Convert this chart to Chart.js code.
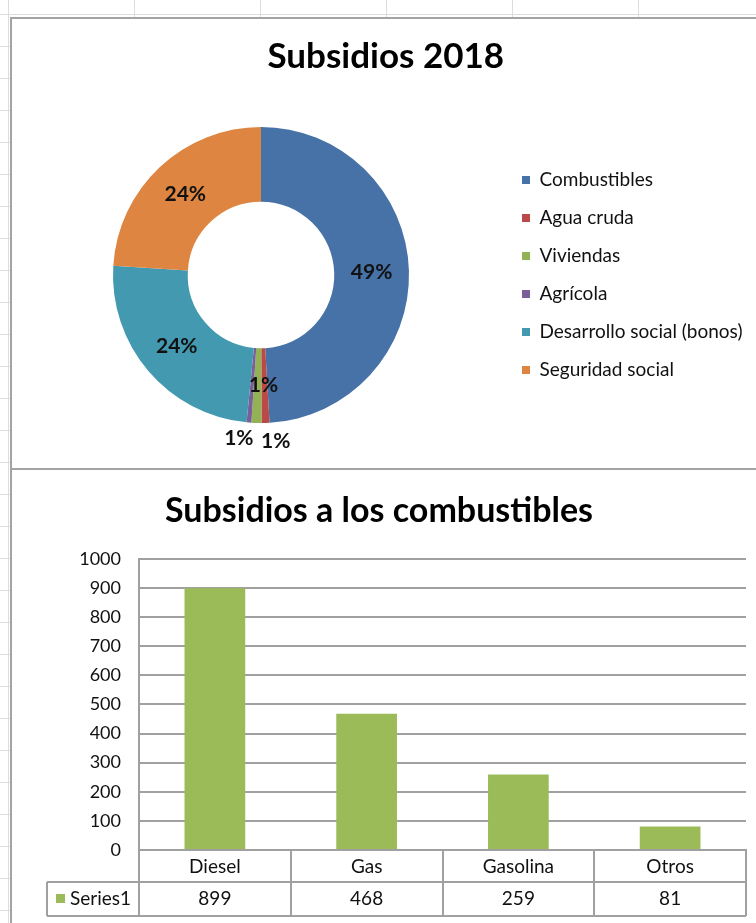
<!DOCTYPE html>
<html>
<head>
<meta charset="utf-8">
<title>Subsidios 2018</title>
<script src="https://cdn.jsdelivr.net/npm/chart.js@4.4.0/dist/chart.umd.min.js"></script>
<style>
  html, body { margin: 0; padding: 0; }
  body {
    width: 756px; height: 923px; overflow: hidden; position: relative; background-color: #fff;
    /* cell grid of the sheet behind the charts */
    background-image:
      repeating-linear-gradient(to right, #dcdcdc 0 1px, transparent 1px 126px),
      repeating-linear-gradient(to bottom, #dcdcdc 0 1px, transparent 1px 32px);
    background-position: 8px 0, 0 14px;
  }
  .marco {
    position: absolute; left: 10px; width: 764px; box-sizing: border-box;
    border: 2px solid #a3a3a3; background: #fff;
  }
  #marco1 { top: 17px; height: 453px; }
  #marco2 { top: 468px; height: 470px; }
  canvas { position: absolute; left: 0; top: 0; }
</style>
</head>
<body>
<div class="marco" id="marco1"><canvas id="dona" width="760" height="449"></canvas></div>
<div class="marco" id="marco2"><canvas id="barras" width="760" height="453"></canvas></div>
<script>
'use strict';

// subsidios 2018 por sector (millones USD)
const sectores = ['Combustibles', 'Agua cruda', 'Viviendas', 'Agrícola', 'Desarrollo social (bonos)', 'Seguridad social'];
const montos = [1707, 30, 38, 18, 850, 835];

// detalle de combustibles
const combustibles = ['Diesel', 'Gas', 'Gasolina', 'Otros'];
const valoresCombustibles = [899, 468, 259, 81];
const nombreSerie = 'Series1';
const ejeY = { min: 0, max: 1000, paso: 100 };

const FUENTE = 'Lato, "Open Sans", sans-serif';
const TEXTO = '#111';
const LINEA = '#a0a0a0';
const coloresSectores = ['#4672a7', '#b94a48', '#93b155', '#7a5f9a', '#4299b0', '#de8641'];
const VERDE = '#9bbb59';

Chart.defaults.font.family = FUENTE;
Chart.defaults.color = TEXTO;

// rotulos de porcentaje; los sectores chicos van fuera del anillo
const ajusteRotulo = { 1: { r: 1.13, da: -3.3 }, 2: { da: -3 }, 3: { r: 1.11, da: 3.1 } };

const porcentajes = {
  id: 'porcentajes',
  afterDatasetsDraw(chart) {
    const { ctx } = chart;
    const datos = chart.data.datasets[0].data;
    const total = datos.reduce((a, b) => a + b, 0);
    ctx.save();
    ctx.font = `bold 21px ${FUENTE}`;
    ctx.fillStyle = TEXTO;
    ctx.textAlign = 'center';
    ctx.textBaseline = 'middle';
    chart.getDatasetMeta(0).data.forEach((arco, i) => {
      const p = arco.getProps(['x', 'y', 'startAngle', 'endAngle', 'innerRadius', 'outerRadius'], true);
      const aj = ajusteRotulo[i] || {};
      const ang = (p.startAngle + p.endAngle) / 2 + (aj.da || 0) * Math.PI / 180;
      const r = aj.r ? aj.r * p.outerRadius : (p.innerRadius + p.outerRadius) / 2;
      const txt = Math.round(datos[i] / total * 100) + '%';
      ctx.fillText(txt, p.x + Math.cos(ang) * r, p.y + Math.sin(ang) * r);
    });
    ctx.restore();
  }
};

// ancho de la leyenda para dejar el anillo en su sitio
const medir = document.createElement('canvas').getContext('2d');
medir.font = `19px ${FUENTE}`;
const textoMax = Math.max(...sectores.map(s => medir.measureText(s).width));
const anchoLeyenda = 19 + 8 + 9.5 + textoMax + 10;

new Chart(document.getElementById('dona'), {
  type: 'doughnut',
  data: {
    labels: sectores,
    datasets: [{
      data: montos,
      backgroundColor: coloresSectores,
      borderWidth: 0,
      hoverOffset: 0
    }]
  },
  options: {
    responsive: false,
    animation: false,
    cutout: '49.5%',
    layout: { padding: { top: 0, left: 7, bottom: 45, right: 760 - 491 - anchoLeyenda } },
    plugins: {
      title: {
        display: true,
        text: 'Subsidios 2018',
        color: '#000',
        font: { size: 35, weight: 'bold' },
        padding: { top: 17, bottom: 49 }
      },
      legend: {
        position: 'right',
        fullSize: false,
        labels: { boxWidth: 8, boxHeight: 8, padding: 19, font: { size: 19 }, color: TEXTO }
      },
      tooltip: { enabled: false }
    }
  },
  plugins: [porcentajes]
});

// tabla de datos bajo el eje de categorias
const tablaDatos = {
  id: 'tablaDatos',
  afterDraw(chart) {
    const { ctx, chartArea: a, scales: { x } } = chart;
    const n = combustibles.length;
    const ancho = x.width / n;
    const fila1 = a.bottom + 32;
    const fila2 = fila1 + 34;
    const izq = 35;
    ctx.save();
    ctx.strokeStyle = LINEA;
    ctx.lineWidth = 2;
    ctx.beginPath();
    ctx.moveTo(izq, fila1); ctx.lineTo(a.right, fila1);
    ctx.moveTo(izq, fila2); ctx.lineTo(a.right, fila2);
    ctx.moveTo(izq, fila1); ctx.lineTo(izq, fila2);
    for (let i = 0; i <= n; i++) {
      const xx = Math.round(x.left + i * ancho);
      ctx.moveTo(xx, a.bottom); ctx.lineTo(xx, fila2);
    }
    ctx.stroke();

    const medio = (fila1 + fila2) / 2;
    ctx.fillStyle = VERDE;
    ctx.fillRect(44, medio - 5, 9, 9);
    ctx.font = `19px ${FUENTE}`;
    ctx.fillStyle = TEXTO;
    ctx.textBaseline = 'middle';
    ctx.textAlign = 'left';
    ctx.fillText(nombreSerie, 58, medio);
    ctx.textAlign = 'center';
    chart.data.datasets[0].data.forEach((v, i) => {
      ctx.fillText(String(v), x.getPixelForValue(i), medio);
    });
    ctx.restore();
  }
};

new Chart(document.getElementById('barras'), {
  type: 'bar',
  data: {
    labels: combustibles,
    datasets: [{
      label: nombreSerie,
      data: valoresCombustibles,
      backgroundColor: VERDE,
      barPercentage: 0.4,
      categoryPercentage: 1
    }]
  },
  options: {
    responsive: false,
    animation: false,
    layout: { padding: { top: 0, left: 0, right: 26, bottom: 42 } },
    plugins: {
      title: {
        display: true,
        text: 'Subsidios a los combustibles',
        color: '#000',
        font: { size: 34, weight: 'bold' },
        padding: { top: 21, bottom: 27 }
      },
      legend: { display: false },
      tooltip: { enabled: false }
    },
    scales: {
      x: {
        grid: { display: false },
        border: { display: true, color: LINEA, width: 2 },
        ticks: { font: { size: 19 }, color: TEXTO, padding: -3 },
        afterFit(s) { s.height = 31; }
      },
      y: {
        min: ejeY.min,
        max: ejeY.max,
        ticks: { stepSize: ejeY.paso, padding: 18, font: { size: 18 }, color: TEXTO, callback: v => String(v) },
        grid: { color: LINEA, lineWidth: 2, drawTicks: false },
        border: { display: true, color: LINEA, width: 2 },
        afterFit(s) { s.width = 127; }
      }
    }
  },
  plugins: [tablaDatos]
});
</script>
</body>
</html>
